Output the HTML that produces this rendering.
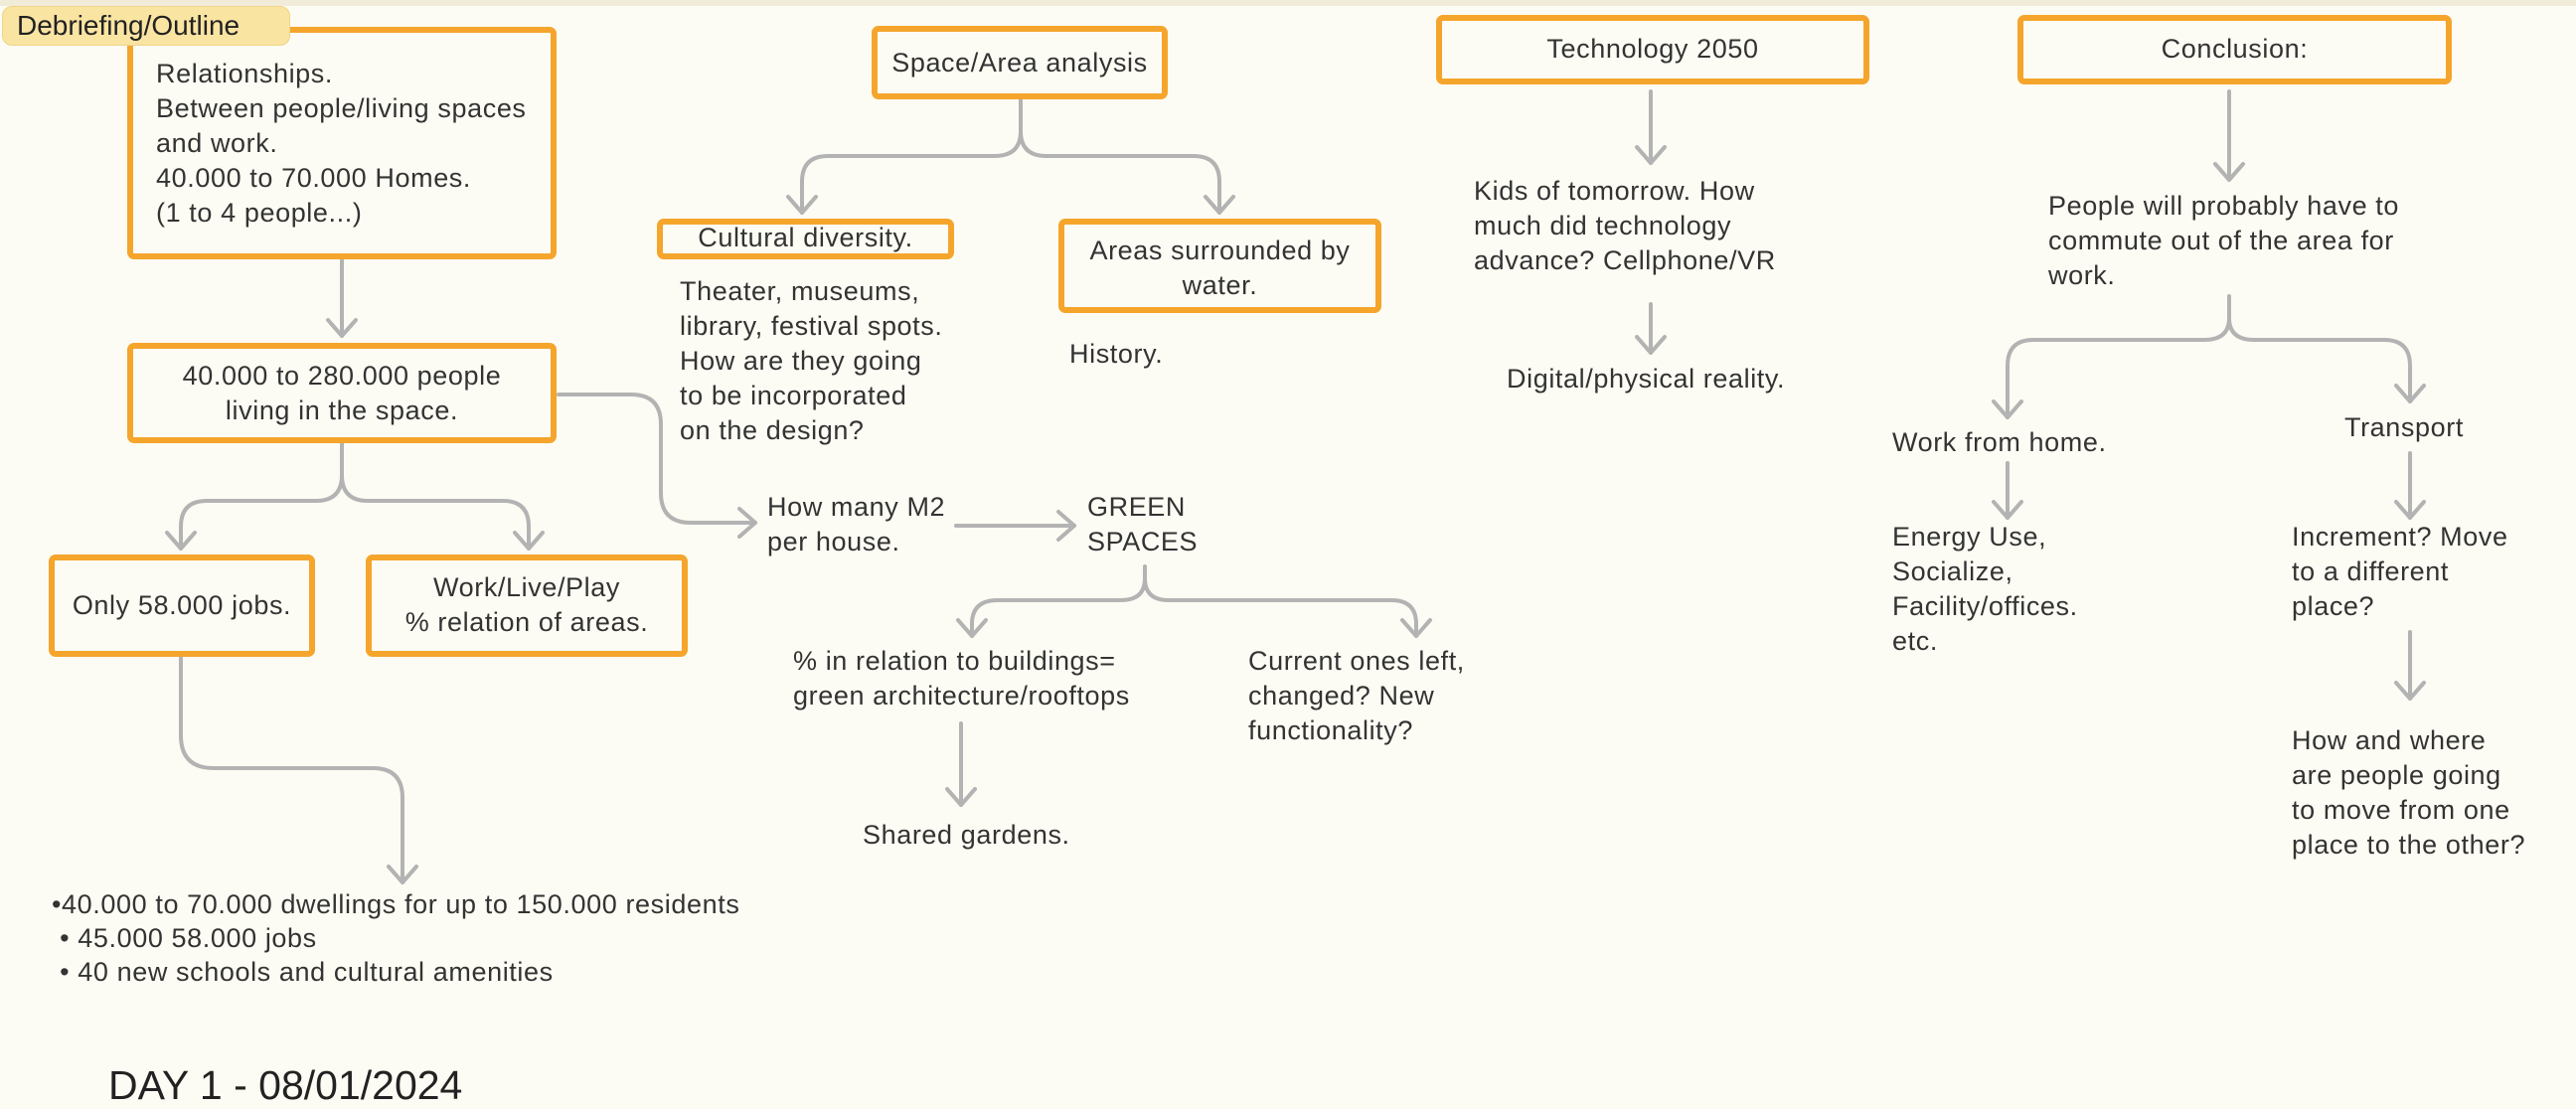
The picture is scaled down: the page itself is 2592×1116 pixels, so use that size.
<!DOCTYPE html>
<html><head><meta charset="utf-8"><style>
body{margin:0;width:2592px;height:1116px;background:#fdfcf4;overflow:hidden;position:relative;font-family:"Liberation Sans",sans-serif;color:#333;}
.b{position:absolute;border:6px solid #f5a52c;border-radius:7px;box-sizing:border-box;background:#fdfcf4;}
.t{position:absolute;font-size:27px;letter-spacing:0.6px;line-height:35px;white-space:nowrap;color:#333;}
.c{text-align:center;}
svg{position:absolute;left:0;top:0;}
</style></head><body>
<div style="position:absolute;left:0;top:0;width:2592px;height:6px;background:#f1ecd8"></div>
<svg width="2592" height="1116" fill="none" stroke="#b3b3b3" stroke-width="4" stroke-linecap="round" stroke-linejoin="round">
<path d="M344 262 V338"/><path d="M330 322 L344 338 L358 322"/>
<path d="M344 446 V478 Q344 504 318 504 H208 Q182 504 182 530 V552"/><path d="M168 536 L182 552 L196 536"/>
<path d="M344 478 Q344 504 370 504 H506 Q532 504 532 530 V552"/><path d="M518 536 L532 552 L546 536"/>
<path d="M562 397 H635 Q665 397 665 427 V496 Q665 526 695 526 H760"/><path d="M744 512 L760 526 L744 540"/>
<path d="M962 529 H1081"/><path d="M1065 515 L1081 529 L1065 543"/>
<path d="M1152 570 V582 Q1152 604 1128 604 H1004 Q978 604 978 628 V640"/><path d="M964 624 L978 640 L992 624"/>
<path d="M1152 582 Q1152 604 1176 604 H1400 Q1425 604 1425 628 V640"/><path d="M1411 624 L1425 640 L1439 624"/>
<path d="M967 728 V810"/><path d="M953 794 L967 810 L981 794"/>
<path d="M182 662 V740 Q182 773 215 773 H375 Q405 773 405 803 V888"/><path d="M391 872 L405 888 L419 872"/>
<path d="M1027 100 V132 Q1027 157 1001 157 H833 Q807 157 807 183 V214"/><path d="M793 198 L807 214 L821 198"/>
<path d="M1027 132 Q1027 157 1053 157 H1201 Q1227 157 1227 183 V214"/><path d="M1213 198 L1227 214 L1241 198"/>
<path d="M1661 92 V164"/><path d="M1647 148 L1661 164 L1675 148"/>
<path d="M1661 306 V355"/><path d="M1647 339 L1661 355 L1675 339"/>
<path d="M2243 92 V181"/><path d="M2229 165 L2243 181 L2257 165"/>
<path d="M2243 298 V320 Q2243 342 2218 342 H2046 Q2020 342 2020 368 V420"/><path d="M2006 404 L2020 420 L2034 404"/>
<path d="M2243 320 Q2243 342 2268 342 H2399 Q2425 342 2425 368 V404"/><path d="M2411 388 L2425 404 L2439 388"/>
<path d="M2020 466 V521"/><path d="M2006 505 L2020 521 L2034 505"/>
<path d="M2425 456 V521"/><path d="M2411 505 L2425 521 L2439 505"/>
<path d="M2425 636 V703"/><path d="M2411 687 L2425 703 L2439 687"/>
</svg>

<div class="b" style="left:128px;top:27px;width:432px;height:234px"></div>
<div class="t" style="left:157px;top:57px">Relationships.<br>Between people/living spaces<br>and work.<br>40.000 to 70.000 Homes.<br>(1 to 4 people...)</div>
<div style="position:absolute;left:2px;top:6px;width:290px;height:40px;background:#fae4a2;border:1px solid #eed58a;border-radius:10px;box-sizing:border-box;font-size:28px;line-height:38px;padding-left:14px;color:#222">Debriefing/Outline</div>

<div class="b" style="left:128px;top:345px;width:432px;height:101px"></div>
<div class="t c" style="left:128px;width:432px;top:361px">40.000 to 280.000 people<br>living in the space.</div>

<div class="b" style="left:49px;top:558px;width:268px;height:103px"></div>
<div class="t c" style="left:49px;width:268px;top:592px">Only 58.000 jobs.</div>
<div class="b" style="left:368px;top:558px;width:324px;height:103px"></div>
<div class="t c" style="left:368px;width:324px;top:574px">Work/Live/Play<br>% relation of areas.</div>

<div class="b" style="left:877px;top:26px;width:298px;height:74px"></div>
<div class="t c" style="left:877px;width:298px;top:46px">Space/Area analysis</div>
<div class="b" style="left:661px;top:220px;width:299px;height:41px"></div>
<div class="t c" style="left:661px;width:299px;top:222px">Cultural diversity.</div>
<div class="b" style="left:1065px;top:220px;width:325px;height:95px"></div>
<div class="t c" style="left:1065px;width:325px;top:235px">Areas surrounded by<br>water.</div>

<div class="t" style="left:684px;top:276px">Theater, museums,<br>library, festival spots.<br>How are they going<br>to be incorporated<br>on the design?</div>
<div class="t" style="left:1076px;top:339px">History.</div>
<div class="t" style="left:772px;top:493px">How many M2<br>per house.</div>
<div class="t" style="left:1094px;top:493px">GREEN<br>SPACES</div>
<div class="t" style="left:798px;top:648px">% in relation to buildings=<br>green architecture/rooftops</div>
<div class="t" style="left:1256px;top:648px">Current ones left,<br>changed? New<br>functionality?</div>
<div class="t" style="left:868px;top:823px">Shared gardens.</div>
<div class="t" style="left:52px;top:893px;line-height:34px">•40.000 to 70.000 dwellings for up to 150.000 residents<br>&nbsp;• 45.000 58.000 jobs<br>&nbsp;• 40 new schools and cultural amenities</div>
<div class="t" style="left:109px;top:1069px;font-size:41px;letter-spacing:0;line-height:46px;color:#222">DAY 1 - 08/01/2024</div>

<div class="b" style="left:1445px;top:15px;width:436px;height:70px"></div>
<div class="t c" style="left:1445px;width:436px;top:32px">Technology 2050</div>
<div class="t" style="left:1483px;top:175px">Kids of tomorrow. How<br>much did technology<br>advance? Cellphone/VR</div>
<div class="t" style="left:1516px;top:364px">Digital/physical reality.</div>

<div class="b" style="left:2030px;top:15px;width:437px;height:70px"></div>
<div class="t c" style="left:2030px;width:437px;top:32px">Conclusion:</div>
<div class="t" style="left:2061px;top:190px">People will probably have to<br>commute out of the area for<br>work.</div>
<div class="t" style="left:1904px;top:428px">Work from home.</div>
<div class="t" style="left:2359px;top:413px">Transport</div>
<div class="t" style="left:1904px;top:523px">Energy Use,<br>Socialize,<br>Facility/offices.<br>etc.</div>
<div class="t" style="left:2306px;top:523px">Increment? Move<br>to a different<br>place?</div>
<div class="t" style="left:2306px;top:728px">How and where<br>are people going<br>to move from one<br>place to the other?</div>
</body></html>
